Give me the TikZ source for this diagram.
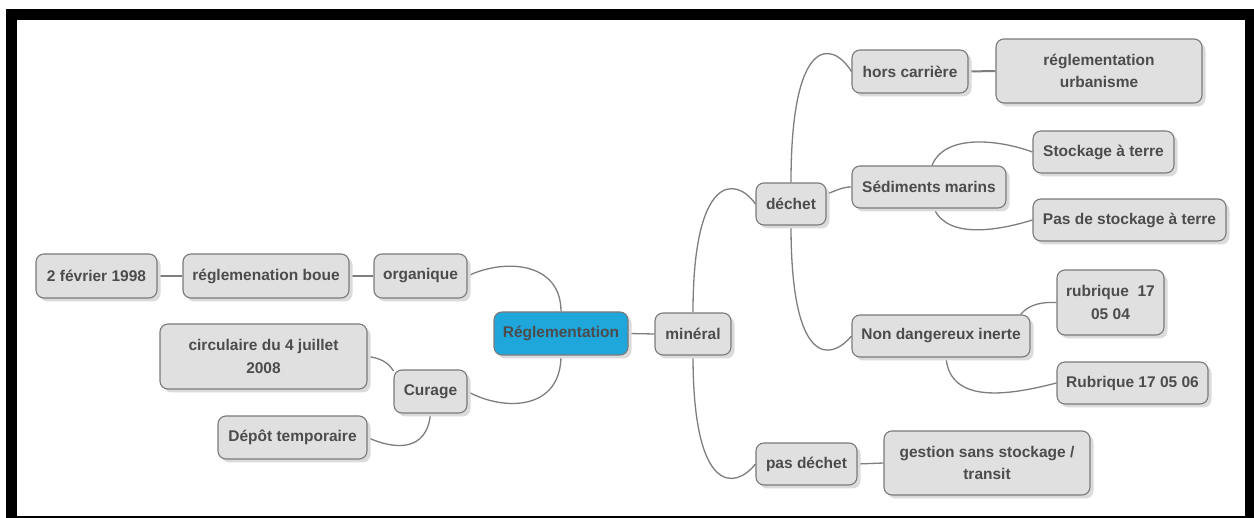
\documentclass[tikz,border=0pt]{standalone}
\usepackage{fontspec}
\setmainfont{Liberation Sans}
\usetikzlibrary{shadows,calc}
\pgfdeclarelayer{frame}
\pgfdeclarelayer{links}
\pgfsetlayers{frame,links,main}
\definecolor{boxfill}{HTML}{E0E0E0}
\definecolor{boxline}{HTML}{7A7A7A}
\definecolor{txt}{HTML}{4C4C4C}
\definecolor{rootfill}{HTML}{1FA7DC}
\definecolor{linkc}{HTML}{7E7E7E}
\tikzset{
  box/.style={draw=boxline, line width=1.1pt, fill=boxfill, rounded corners=8pt,
    inner sep=0pt, align=center, text=txt,
    font=\fontsize{15.5}{22.5}\selectfont\bfseries,
    drop shadow={shadow xshift=3.5pt, shadow yshift=-3.5pt, fill=black!14, opacity=1}},
  rootbox/.style={box, fill=rootfill},
  link/.style={draw=linkc, line width=1.3pt},
}
\begin{document}
\begin{tikzpicture}[x=1pt,y=-1pt]
\useasboundingbox (0,0) rectangle (1254,518);
\begin{pgfonlayer}{frame}
\fill[black] (6,9) rectangle (1254,518);
\fill[white] (17,20) rectangle (1245,516);
\end{pgfonlayer}

% nodes
\node[rootbox, minimum width=134pt, minimum height=43pt] (regl) at (561,333.5) {Réglementation};
\node[box, minimum width=76pt, minimum height=42pt] (min) at (693,334) {minéral};
\node[box, minimum width=93pt, minimum height=44pt] (org) at (420.5,276) {organique};
\node[box, minimum width=166pt, minimum height=44pt] (boue) at (266,276) {réglemenation boue};
\node[box, minimum width=121pt, minimum height=44pt] (fev) at (96.5,276) {2 février 1998};
\node[box, minimum width=207pt, minimum height=65pt] (circ) at (263.5,356.5) {circulaire du 4 juillet\\2008};
\node[box, minimum width=73pt, minimum height=43pt] (cur) at (430.5,391.5) {Curage};
\node[box, minimum width=149pt, minimum height=43pt] (dep) at (292.5,437.5) {Dépôt temporaire};
\node[box, minimum width=70pt, minimum height=42pt] (dec) at (791,204) {déchet};
\node[box, minimum width=116pt, minimum height=43pt] (hors) at (910,71.5) {hors carrière};
\node[box, minimum width=206pt, minimum height=64pt] (urb) at (1099,71) {réglementation\\urbanisme};
\node[box, minimum width=154pt, minimum height=42pt] (sed) at (929,187) {Sédiments marins};
\node[box, minimum width=141pt, minimum height=42pt] (sto) at (1103.5,152) {Stockage à terre};
\node[box, minimum width=193pt, minimum height=42pt] (pds) at (1129.5,220) {Pas de stockage à terre};
\node[box, minimum width=178pt, minimum height=42pt] (nd) at (941,336) {Non dangereux inerte};
\node[box, minimum width=107pt, minimum height=65pt] (rub) at (1110.5,302.5) {rubrique\ \ 17\\05 04};
\node[box, minimum width=151pt, minimum height=42pt] (rubb) at (1132.5,383) {Rubrique 17 05 06};
\node[box, minimum width=101pt, minimum height=42pt] (pas) at (806.5,464) {pas déchet};
\node[box, minimum width=206pt, minimum height=64pt] (ges) at (987,463) {gestion sans stockage /\\transit};

% connectors
\begin{pgfonlayer}{links}
\draw[link] (regl.east) -- (min.west);
\draw[link] (org.west) -- (boue.east);
\draw[link] (boue.west) -- (fev.east);
\draw[link, line width=2pt] (hors.east) -- (urb.west);
\draw[link] (pas.east) -- (ges.west);
\draw[link] (regl.north) .. controls (561,262) and (505,258) .. (org.east);
\draw[link] (regl.south) .. controls (561,410) and (505,412) .. (cur.east);
\draw[link] (cur.151) .. controls (388,362) and (380,358) .. (circ.east);
\draw[link] (cur.south) .. controls (427,452) and (395,450) .. (dep.east);
\draw[link] (min.north) .. controls (693,175) and (735,175) .. (dec.west);
\draw[link] (min.south) .. controls (693,495) and (735,490) .. (pas.west);
\draw[link] (dec.north) .. controls (791,35) and (832,40) .. (hors.west);
\draw[link] ($(dec.east)+(0,-10)$) .. controls (838,190) and (842,187) .. (sed.west);
\draw[link] (dec.south) .. controls (791,370) and (832,360) .. (nd.west);
\draw[link] ($(sed.north)+(3,0)$) .. controls (945,133) and (1000,140) .. (sto.west);
\draw[link] ($(sed.south)+(5,0)$) .. controls (948,240) and (1000,230) .. (pds.west);
\draw[link] ($(nd.north east)+(-10,0)$) .. controls (1030,303) and (1045,302) .. (rub.west);
\draw[link] ($(nd.south)+(5,0)$) .. controls (950,405) and (1010,395) .. (rubb.west);
\end{pgfonlayer}
\end{tikzpicture}
\end{document}
